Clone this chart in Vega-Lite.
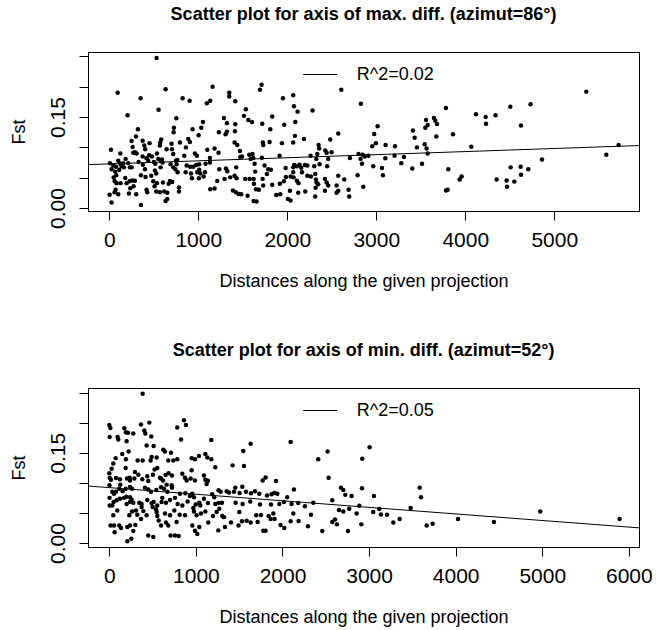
{
"$schema":"https://vega.github.io/schema/vega-lite/v6.json",
"autosize":{"type":"pad"},
"padding":{"left":9,"top":5,"right":0,"bottom":0},
"spacing":177,
"bounds":"flush",
"config":{"view":{"stroke":"black","strokeWidth":1},"font":"Liberation Sans",
"axis":{"domain":false,"grid":false,"tickColor":"black","tickSize":9,"labelFontSize":21,"labelColor":"black","titleFontSize":18,"titleFontWeight":"normal","titleColor":"black","labelFont":"Liberation Sans","titleFont":"Liberation Sans","labelFlush":false}},
"resolve":{"scale":{"x":"independent","y":"independent","stroke":"independent"},"legend":{"stroke":"independent"}},
"datasets":{
"top":[{"d":532,"f":0.2475},{"d":94,"f":0.190},{"d":633,"f":0.196},{"d":352,"f":0.181},{"d":1161,"f":0.200},{"d":1348,"f":0.190},{"d":1348,"f":0.184},{"d":1416,"f":0.176},{"d":1711,"f":0.2035},{"d":1693,"f":0.195},{"d":824,"f":0.181},{"d":903,"f":0.177},{"d":1097,"f":0.173},{"d":1135,"f":0.177},{"d":554,"f":0.162},{"d":206,"f":0.153},{"d":753,"f":0.148},{"d":1951,"f":0.181},{"d":2067,"f":0.186},{"d":2075,"f":0.168},{"d":2116,"f":0.159},{"d":2607,"f":0.195},{"d":2827,"f":0.172},{"d":2284,"f":0.161},{"d":1535,"f":0.163},{"d":1513,"f":0.152},{"d":1562,"f":0.145},{"d":1603,"f":0.142},{"d":1719,"f":0.139},{"d":1831,"f":0.151},{"d":1288,"f":0.1485},{"d":1322,"f":0.140},{"d":1416,"f":0.138},{"d":1052,"f":0.142},{"d":1034,"f":0.1325},{"d":936,"f":0.130},{"d":1004,"f":0.120},{"d":727,"f":0.1325},{"d":723,"f":0.125},{"d":1232,"f":0.125},{"d":1322,"f":0.126},{"d":1307,"f":0.1215},{"d":1412,"f":0.1265},{"d":1809,"f":0.130},{"d":1966,"f":0.1375},{"d":2090,"f":0.142},{"d":2086,"f":0.119},{"d":2187,"f":0.114},{"d":2573,"f":0.123},{"d":2483,"f":0.113},{"d":2977,"f":0.122},{"d":3015,"f":0.135},{"d":322,"f":0.130},{"d":300,"f":0.118},{"d":251,"f":0.1105},{"d":375,"f":0.111},{"d":453,"f":0.107},{"d":393,"f":0.103},{"d":404,"f":0.097},{"d":584,"f":0.113},{"d":573,"f":0.108},{"d":569,"f":0.103},{"d":700,"f":0.106},{"d":704,"f":0.097},{"d":644,"f":0.097},{"d":794,"f":0.108},{"d":888,"f":0.114},{"d":906,"f":0.109},{"d":861,"f":0.100},{"d":262,"f":0.1005},{"d":270,"f":0.091},{"d":19,"f":0.096},{"d":124,"f":0.090},{"d":184,"f":0.081},{"d":288,"f":0.092},{"d":307,"f":0.090},{"d":375,"f":0.085},{"d":449,"f":0.087},{"d":479,"f":0.085},{"d":419,"f":0.082},{"d":536,"f":0.090},{"d":551,"f":0.081},{"d":592,"f":0.080},{"d":719,"f":0.089},{"d":749,"f":0.078},{"d":764,"f":0.079},{"d":843,"f":0.086},{"d":962,"f":0.090},{"d":985,"f":0.086},{"d":1101,"f":0.096},{"d":1183,"f":0.098},{"d":1228,"f":0.091},{"d":1131,"f":0.0825},{"d":1408,"f":0.108},{"d":1438,"f":0.104},{"d":1468,"f":0.094},{"d":1573,"f":0.088},{"d":1610,"f":0.089},{"d":1588,"f":0.081},{"d":1715,"f":0.083},{"d":1726,"f":0.108},{"d":1730,"f":0.104},{"d":1801,"f":0.109},{"d":1940,"f":0.107},{"d":1914,"f":0.086},{"d":2067,"f":0.108},{"d":2352,"f":0.104},{"d":2359,"f":0.098},{"d":2337,"f":0.089},{"d":2326,"f":0.081},{"d":2427,"f":0.095},{"d":2442,"f":0.091},{"d":2498,"f":0.092},{"d":2460,"f":0.081},{"d":2449,"f":0.069},{"d":2262,"f":0.086},{"d":2363,"f":0.072},{"d":2704,"f":0.0825},{"d":2801,"f":0.089},{"d":2846,"f":0.088},{"d":2824,"f":0.081},{"d":2839,"f":0.073},{"d":2872,"f":0.085},{"d":2910,"f":0.086},{"d":2966,"f":0.069},{"d":2955,"f":0.102},{"d":2996,"f":0.107},{"d":7,"f":0.074},{"d":45,"f":0.070},{"d":26,"f":0.064},{"d":75,"f":0.068},{"d":67,"f":0.060},{"d":49,"f":0.0505},{"d":101,"f":0.078},{"d":124,"f":0.073},{"d":139,"f":0.069},{"d":157,"f":0.074},{"d":165,"f":0.067},{"d":112,"f":0.063},{"d":213,"f":0.074},{"d":232,"f":0.067},{"d":251,"f":0.067},{"d":330,"f":0.076},{"d":378,"f":0.0715},{"d":401,"f":0.064},{"d":438,"f":0.078},{"d":502,"f":0.076},{"d":517,"f":0.073},{"d":580,"f":0.0775},{"d":599,"f":0.075},{"d":513,"f":0.062},{"d":528,"f":0.057},{"d":577,"f":0.067},{"d":689,"f":0.072},{"d":719,"f":0.067},{"d":742,"f":0.064},{"d":757,"f":0.072},{"d":869,"f":0.070},{"d":910,"f":0.068},{"d":944,"f":0.068},{"d":977,"f":0.071},{"d":1011,"f":0.072},{"d":1082,"f":0.073},{"d":1131,"f":0.075},{"d":858,"f":0.059},{"d":918,"f":0.057},{"d":989,"f":0.059},{"d":1011,"f":0.063},{"d":1022,"f":0.057},{"d":1075,"f":0.059},{"d":1236,"f":0.064},{"d":1311,"f":0.065},{"d":1326,"f":0.0605},{"d":1427,"f":0.067},{"d":1472,"f":0.084},{"d":1491,"f":0.085},{"d":1618,"f":0.0825},{"d":1633,"f":0.073},{"d":1745,"f":0.070},{"d":1786,"f":0.064},{"d":1816,"f":0.063},{"d":1771,"f":0.056},{"d":1981,"f":0.066},{"d":2067,"f":0.067},{"d":2078,"f":0.071},{"d":2108,"f":0.069},{"d":2138,"f":0.0715},{"d":2157,"f":0.0665},{"d":2198,"f":0.071},{"d":2225,"f":0.070},{"d":2303,"f":0.069},{"d":79,"f":0.054},{"d":60,"f":0.0445},{"d":82,"f":0.041},{"d":127,"f":0.041},{"d":71,"f":0.030},{"d":60,"f":0.026},{"d":101,"f":0.0225},{"d":4,"f":0.022},{"d":26,"f":0.009},{"d":195,"f":0.041},{"d":180,"f":0.0495},{"d":228,"f":0.044},{"d":258,"f":0.0455},{"d":273,"f":0.036},{"d":288,"f":0.045},{"d":236,"f":0.0325},{"d":221,"f":0.024},{"d":303,"f":0.0225},{"d":356,"f":0.005},{"d":356,"f":0.054},{"d":408,"f":0.051},{"d":419,"f":0.030},{"d":427,"f":0.026},{"d":472,"f":0.053},{"d":494,"f":0.044},{"d":509,"f":0.036},{"d":536,"f":0.041},{"d":528,"f":0.027},{"d":569,"f":0.026},{"d":618,"f":0.027},{"d":652,"f":0.025},{"d":633,"f":0.0115},{"d":652,"f":0.015},{"d":603,"f":0.042},{"d":667,"f":0.040},{"d":682,"f":0.0445},{"d":708,"f":0.043},{"d":768,"f":0.059},{"d":783,"f":0.034},{"d":783,"f":0.027},{"d":929,"f":0.049},{"d":1007,"f":0.049},{"d":1060,"f":0.052},{"d":1135,"f":0.031},{"d":1183,"f":0.032},{"d":1213,"f":0.0445},{"d":1296,"f":0.048},{"d":1359,"f":0.0505},{"d":1408,"f":0.053},{"d":1431,"f":0.049},{"d":1389,"f":0.029},{"d":1423,"f":0.026},{"d":1453,"f":0.023},{"d":1483,"f":0.0225},{"d":1554,"f":0.020},{"d":1528,"f":0.048},{"d":1577,"f":0.048},{"d":1622,"f":0.048},{"d":1640,"f":0.060},{"d":1625,"f":0.040},{"d":1648,"f":0.031},{"d":1681,"f":0.030},{"d":1622,"f":0.0115},{"d":1655,"f":0.0105},{"d":1723,"f":0.048},{"d":1730,"f":0.037},{"d":1831,"f":0.0385},{"d":1876,"f":0.0215},{"d":1921,"f":0.0225},{"d":1917,"f":0.040},{"d":1962,"f":0.044},{"d":1985,"f":0.051},{"d":2037,"f":0.052},{"d":2030,"f":0.0285},{"d":2007,"f":0.015},{"d":2037,"f":0.0125},{"d":2067,"f":0.059},{"d":2071,"f":0.0505},{"d":2108,"f":0.045},{"d":2127,"f":0.041},{"d":2123,"f":0.025},{"d":2202,"f":0.027},{"d":2165,"f":0.059},{"d":2225,"f":0.053},{"d":2266,"f":0.052},{"d":2314,"f":0.056},{"d":2322,"f":0.047},{"d":2329,"f":0.042},{"d":2348,"f":0.039},{"d":2318,"f":0.0335},{"d":2314,"f":0.019},{"d":2423,"f":0.048},{"d":2442,"f":0.042},{"d":2460,"f":0.037},{"d":2423,"f":0.0285},{"d":2554,"f":0.037},{"d":2573,"f":0.0285},{"d":2554,"f":0.025},{"d":2573,"f":0.053},{"d":2640,"f":0.047},{"d":2689,"f":0.030},{"d":2696,"f":0.019},{"d":2790,"f":0.054},{"d":2854,"f":0.035},{"d":5360,"f":0.192},{"d":4734,"f":0.171},{"d":4506,"f":0.167},{"d":4120,"f":0.1545},{"d":4229,"f":0.150},{"d":4341,"f":0.153},{"d":4233,"f":0.139},{"d":3783,"f":0.165},{"d":3648,"f":0.1485},{"d":3663,"f":0.144},{"d":3682,"f":0.1385},{"d":3559,"f":0.145},{"d":3577,"f":0.137},{"d":3551,"f":0.1325},{"d":3412,"f":0.128},{"d":3431,"f":0.116},{"d":3675,"f":0.118},{"d":3862,"f":0.1215},{"d":4626,"f":0.136},{"d":3105,"f":0.104},{"d":3210,"f":0.102},{"d":3457,"f":0.100},{"d":3544,"f":0.105},{"d":3566,"f":0.098},{"d":3577,"f":0.090},{"d":3206,"f":0.086},{"d":3311,"f":0.084},{"d":3281,"f":0.074},{"d":3514,"f":0.073},{"d":3405,"f":0.065},{"d":4068,"f":0.101},{"d":5585,"f":0.088},{"d":4862,"f":0.080},{"d":3809,"f":0.064},{"d":4510,"f":0.067},{"d":4622,"f":0.068},{"d":4708,"f":0.064},{"d":4626,"f":0.055},{"d":4352,"f":0.047},{"d":4465,"f":0.0455},{"d":4469,"f":0.035},{"d":4551,"f":0.0435},{"d":3937,"f":0.047},{"d":3959,"f":0.052},{"d":3783,"f":0.029},{"d":3802,"f":0.030},{"d":3064,"f":0.066},{"d":3075,"f":0.054},{"d":3102,"f":0.082},{"d":5723,"f":0.104}],
"bottom":[{"d":385,"f":0.248},{"d":0,"f":0.196},{"d":12,"f":0.191},{"d":4,"f":0.176},{"d":173,"f":0.1905},{"d":192,"f":0.184},{"d":216,"f":0.183},{"d":277,"f":0.182},{"d":96,"f":0.176},{"d":104,"f":0.172},{"d":200,"f":0.169},{"d":366,"f":0.197},{"d":404,"f":0.187},{"d":416,"f":0.182},{"d":462,"f":0.200},{"d":485,"f":0.177},{"d":431,"f":0.162},{"d":512,"f":0.161},{"d":785,"f":0.192},{"d":862,"f":0.204},{"d":885,"f":0.196},{"d":828,"f":0.172},{"d":1178,"f":0.171},{"d":150,"f":0.148},{"d":73,"f":0.141},{"d":46,"f":0.132},{"d":27,"f":0.1235},{"d":223,"f":0.152},{"d":192,"f":0.139},{"d":189,"f":0.1245},{"d":327,"f":0.137},{"d":385,"f":0.137},{"d":489,"f":0.143},{"d":477,"f":0.137},{"d":547,"f":0.142},{"d":624,"f":0.155},{"d":643,"f":0.152},{"d":712,"f":0.150},{"d":681,"f":0.137},{"d":739,"f":0.137},{"d":785,"f":0.139},{"d":951,"f":0.141},{"d":989,"f":0.139},{"d":1035,"f":0.1445},{"d":1109,"f":0.148},{"d":1132,"f":0.142},{"d":1178,"f":0.139},{"d":1224,"f":0.126},{"d":1424,"f":0.129},{"d":1555,"f":0.128},{"d":1547,"f":0.153},{"d":1632,"f":0.165},{"d":2094,"f":0.168},{"d":2521,"f":0.152},{"d":2413,"f":0.139},{"d":2533,"f":0.1085},{"d":3006,"f":0.159},{"d":2921,"f":0.140},{"d":0,"f":0.116},{"d":5,"f":0.108},{"d":19,"f":0.105},{"d":2,"f":0.096},{"d":77,"f":0.108},{"d":123,"f":0.106},{"d":127,"f":0.097},{"d":204,"f":0.107},{"d":235,"f":0.1085},{"d":239,"f":0.104},{"d":289,"f":0.107},{"d":296,"f":0.118},{"d":335,"f":0.1135},{"d":381,"f":0.106},{"d":439,"f":0.111},{"d":450,"f":0.103},{"d":504,"f":0.1135},{"d":523,"f":0.122},{"d":554,"f":0.1245},{"d":585,"f":0.1085},{"d":620,"f":0.104},{"d":597,"f":0.107},{"d":650,"f":0.113},{"d":685,"f":0.116},{"d":724,"f":0.112},{"d":662,"f":0.097},{"d":720,"f":0.096},{"d":843,"f":0.115},{"d":874,"f":0.1085},{"d":893,"f":0.104},{"d":939,"f":0.107},{"d":951,"f":0.121},{"d":989,"f":0.104},{"d":1093,"f":0.112},{"d":1109,"f":0.105},{"d":1139,"f":0.1035},{"d":1124,"f":0.098},{"d":35,"f":0.085},{"d":54,"f":0.082},{"d":77,"f":0.085},{"d":115,"f":0.090},{"d":154,"f":0.086},{"d":189,"f":0.090},{"d":239,"f":0.093},{"d":262,"f":0.090},{"d":3,"f":0.075},{"d":4,"f":0.0625},{"d":50,"f":0.068},{"d":85,"f":0.071},{"d":123,"f":0.0735},{"d":169,"f":0.075},{"d":196,"f":0.077},{"d":239,"f":0.076},{"d":258,"f":0.072},{"d":277,"f":0.067},{"d":200,"f":0.065},{"d":239,"f":0.068},{"d":346,"f":0.067},{"d":373,"f":0.065},{"d":412,"f":0.092},{"d":450,"f":0.089},{"d":481,"f":0.085},{"d":439,"f":0.0715},{"d":489,"f":0.066},{"d":512,"f":0.068},{"d":554,"f":0.0625},{"d":543,"f":0.088},{"d":597,"f":0.0925},{"d":631,"f":0.090},{"d":670,"f":0.085},{"d":724,"f":0.092},{"d":612,"f":0.075},{"d":604,"f":0.068},{"d":654,"f":0.067},{"d":701,"f":0.0715},{"d":758,"f":0.075},{"d":816,"f":0.082},{"d":878,"f":0.0825},{"d":789,"f":0.065},{"d":843,"f":0.0625},{"d":905,"f":0.069},{"d":931,"f":0.078},{"d":958,"f":0.082},{"d":978,"f":0.076},{"d":997,"f":0.064},{"d":1039,"f":0.067},{"d":1051,"f":0.0625},{"d":1093,"f":0.0735},{"d":1139,"f":0.0665},{"d":1189,"f":0.081},{"d":1212,"f":0.076},{"d":1262,"f":0.0875},{"d":1286,"f":0.085},{"d":1355,"f":0.086},{"d":1382,"f":0.084},{"d":1440,"f":0.085},{"d":1455,"f":0.092},{"d":1505,"f":0.083},{"d":1536,"f":0.0935},{"d":1578,"f":0.085},{"d":1636,"f":0.0825},{"d":1682,"f":0.086},{"d":1732,"f":0.082},{"d":1771,"f":0.104},{"d":1805,"f":0.109},{"d":1925,"f":0.103},{"d":1821,"f":0.079},{"d":1874,"f":0.081},{"d":1905,"f":0.083},{"d":1940,"f":0.082},{"d":2055,"f":0.076},{"d":2132,"f":0.089},{"d":1224,"f":0.065},{"d":1262,"f":0.0665},{"d":1301,"f":0.067},{"d":1459,"f":0.067},{"d":1540,"f":0.065},{"d":1628,"f":0.069},{"d":1740,"f":0.064},{"d":1867,"f":0.064},{"d":1963,"f":0.065},{"d":2017,"f":0.068},{"d":2105,"f":0.065},{"d":2182,"f":0.0665},{"d":2259,"f":0.061},{"d":2356,"f":0.067},{"d":2575,"f":0.071},{"d":2675,"f":0.092},{"d":2702,"f":0.088},{"d":2725,"f":0.080},{"d":2798,"f":0.078},{"d":2652,"f":0.055},{"d":2702,"f":0.0525},{"d":2771,"f":0.057},{"d":2856,"f":0.049},{"d":2918,"f":0.091},{"d":3056,"f":0.078},{"d":3048,"f":0.0515},{"d":2887,"f":0.062},{"d":35,"f":0.0625},{"d":46,"f":0.046},{"d":54,"f":0.029},{"d":62,"f":0.018},{"d":15,"f":0.029},{"d":92,"f":0.054},{"d":115,"f":0.029},{"d":135,"f":0.025},{"d":208,"f":0.0265},{"d":239,"f":0.029},{"d":208,"f":0.003},{"d":254,"f":0.007},{"d":277,"f":0.020},{"d":300,"f":0.030},{"d":231,"f":0.046},{"d":262,"f":0.0525},{"d":308,"f":0.054},{"d":323,"f":0.047},{"d":373,"f":0.060},{"d":366,"f":0.040},{"d":393,"f":0.053},{"d":431,"f":0.046},{"d":450,"f":0.0125},{"d":508,"f":0.010},{"d":500,"f":0.060},{"d":539,"f":0.056},{"d":547,"f":0.0515},{"d":554,"f":0.045},{"d":570,"f":0.0375},{"d":597,"f":0.029},{"d":643,"f":0.049},{"d":654,"f":0.034},{"d":681,"f":0.029},{"d":701,"f":0.046},{"d":751,"f":0.054},{"d":708,"f":0.0125},{"d":758,"f":0.0125},{"d":801,"f":0.0115},{"d":777,"f":0.035},{"d":812,"f":0.047},{"d":874,"f":0.046},{"d":970,"f":0.058},{"d":978,"f":0.0525},{"d":1008,"f":0.046},{"d":958,"f":0.029},{"d":989,"f":0.0205},{"d":1016,"f":0.015},{"d":1039,"f":0.0265},{"d":1058,"f":0.049},{"d":1109,"f":0.0525},{"d":1143,"f":0.034},{"d":1197,"f":0.045},{"d":1239,"f":0.0515},{"d":1270,"f":0.057},{"d":1305,"f":0.045},{"d":1324,"f":0.043},{"d":1259,"f":0.021},{"d":1336,"f":0.0265},{"d":1405,"f":0.034},{"d":1493,"f":0.029},{"d":1501,"f":0.0515},{"d":1532,"f":0.036},{"d":1586,"f":0.037},{"d":1632,"f":0.034},{"d":1697,"f":0.046},{"d":1713,"f":0.035},{"d":1751,"f":0.0465},{"d":1778,"f":0.0205},{"d":1805,"f":0.0205},{"d":1840,"f":0.045},{"d":1863,"f":0.040},{"d":1894,"f":0.049},{"d":1909,"f":0.040},{"d":1978,"f":0.030},{"d":2021,"f":0.025},{"d":2094,"f":0.036},{"d":2125,"f":0.049},{"d":2186,"f":0.0365},{"d":2294,"f":0.028},{"d":2329,"f":0.047},{"d":2460,"f":0.020},{"d":2575,"f":0.035},{"d":2606,"f":0.039},{"d":2629,"f":0.031},{"d":2756,"f":0.020},{"d":2910,"f":0.031},{"d":3584,"f":0.092},{"d":3599,"f":0.076},{"d":3480,"f":0.058},{"d":3280,"f":0.034},{"d":3353,"f":0.040},{"d":3665,"f":0.029},{"d":3734,"f":0.032},{"d":4027,"f":0.040},{"d":4442,"f":0.035},{"d":4977,"f":0.0525},{"d":5893,"f":0.040},{"d":3137,"f":0.0475},{"d":3207,"f":0.047},{"d":3118,"f":0.0565}],
"topLine":[{"d":-239,"f":0.0715,"lab":"R^2=0.02"},{"d":5952,"f":0.1030,"lab":"R^2=0.02"}],
"bottomLine":[{"d":-246,"f":0.0947,"lab":"R^2=0.05"},{"d":6117,"f":0.0252,"lab":"R^2=0.05"}]
},
"vconcat":[
{"width":551,"height":159,
"title":{"text":"Scatter plot for axis of max. diff. (azimut=86°)","fontSize":18,"fontWeight":"bold","font":"Liberation Sans","color":"black","anchor":"middle","offset":14,"baseline":"alphabetic"},
"encoding":{"x":{"field":"d","type":"quantitative","scale":{"domain":[-239,5952],"nice":false,"zero":false},"axis":{"values":[0,1000,2000,3000,4000,5000],"format":"d","labelOverlap":false,"labelPadding":9,"title":"Distances along the given projection","titleY":75,"titleBaseline":"alphabetic"}},
"y":{"field":"f","type":"quantitative","scale":{"domain":[-0.005,0.2574],"nice":false,"zero":false},"axis":{"values":[0,0.05,0.1,0.15,0.2,0.25],"format":".2f","labelOverlap":false,"labelExpr":"(datum.value < 0.01 || (datum.value > 0.14 && datum.value < 0.16)) ? datum.label : ''","labelAngle":-90,"labelAlign":"center","labelBaseline":"alphabetic","labelPadding":14.5,"title":"Fst","titleX":-64,"titleY":79.5,"titleBaseline":"alphabetic","titleAngle":270,"titleAlign":"center"}}},
"layer":[
{"data":{"name":"top"},"mark":{"type":"point","filled":true,"size":20,"color":"black","opacity":1,"strokeWidth":0}},
{"data":{"name":"topLine"},"mark":{"type":"line","strokeWidth":1,"clip":true},
"encoding":{"stroke":{"field":"lab","type":"nominal","scale":{"range":["black"]},"legend":{"orient":"none","legendX":214.7,"legendY":5,"title":null,"symbolType":"stroke","symbolSize":1156,"symbolStrokeWidth":1,"symbolStrokeColor":"black","labelFontSize":18,"labelOffset":19,"labelFont":"Liberation Sans","labelColor":"black","padding":0}}}}
]},
{"width":551,"height":159,
"title":{"text":"Scatter plot for axis of min. diff. (azimut=52°)","fontSize":18,"fontWeight":"bold","font":"Liberation Sans","color":"black","anchor":"middle","offset":14,"baseline":"alphabetic"},
"encoding":{"x":{"field":"d","type":"quantitative","scale":{"domain":[-246,6117],"nice":false,"zero":false},"axis":{"values":[0,1000,2000,3000,4000,5000,6000],"format":"d","labelOverlap":false,"labelPadding":9,"title":"Distances along the given projection","titleY":75,"titleBaseline":"alphabetic"}},
"y":{"field":"f","type":"quantitative","scale":{"domain":[-0.0066,0.2575],"nice":false,"zero":false},"axis":{"values":[0,0.05,0.1,0.15,0.2,0.25],"format":".2f","labelOverlap":false,"labelExpr":"(datum.value < 0.01 || (datum.value > 0.14 && datum.value < 0.16)) ? datum.label : ''","labelAngle":-90,"labelAlign":"center","labelBaseline":"alphabetic","labelPadding":14.5,"title":"Fst","titleX":-64,"titleY":79.5,"titleBaseline":"alphabetic","titleAngle":270,"titleAlign":"center"}}},
"layer":[
{"data":{"name":"bottom"},"mark":{"type":"point","filled":true,"size":20,"color":"black","opacity":1,"strokeWidth":0}},
{"data":{"name":"bottomLine"},"mark":{"type":"line","strokeWidth":1,"clip":true},
"encoding":{"stroke":{"field":"lab","type":"nominal","scale":{"range":["black"]},"legend":{"orient":"none","legendX":214.7,"legendY":5,"title":null,"symbolType":"stroke","symbolSize":1156,"symbolStrokeWidth":1,"symbolStrokeColor":"black","labelFontSize":18,"labelOffset":19,"labelFont":"Liberation Sans","labelColor":"black","padding":0}}}}
]}
]
}
